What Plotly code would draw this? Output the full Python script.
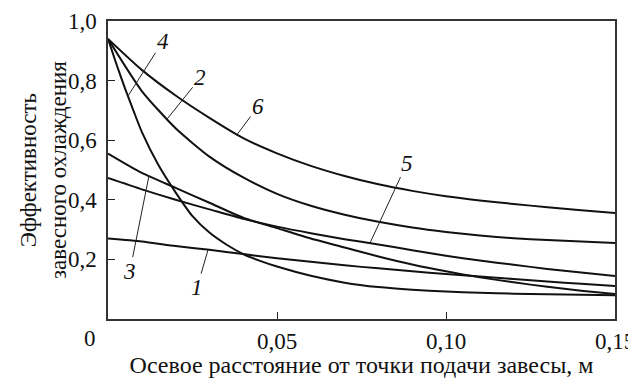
import numpy as np
import plotly.graph_objects as go

# Axial distance, m
x_grid = [0, 0.01, 0.02, 0.03, 0.04, 0.05, 0.06, 0.07, 0.08, 0.09,
          0.10, 0.11, 0.12, 0.13, 0.14, 0.15]
x_fine = [0, 0.0025, 0.005, 0.0075, 0.01, 0.015, 0.02, 0.025, 0.03, 0.035,
          0.04, 0.045, 0.05, 0.06, 0.07, 0.08, 0.09, 0.10, 0.11, 0.12,
          0.13, 0.14, 0.15]

# Film cooling effectiveness per curve
curve1 = [0.27, 0.26, 0.245, 0.232, 0.218, 0.204, 0.192, 0.18, 0.17, 0.16,
          0.151, 0.143, 0.134, 0.126, 0.118, 0.111]
curve2 = [0.94, 0.765, 0.64, 0.545, 0.475, 0.42, 0.38, 0.35, 0.326, 0.307,
          0.292, 0.28, 0.271, 0.265, 0.26, 0.255]
curve3 = [0.555, 0.49, 0.44, 0.39, 0.34, 0.305, 0.27, 0.24, 0.21, 0.183,
          0.16, 0.14, 0.123, 0.108, 0.095, 0.084]
curve4 = [0.94, 0.855, 0.775, 0.70, 0.628, 0.515, 0.425, 0.345, 0.29, 0.25,
          0.218, 0.195, 0.176, 0.145, 0.122, 0.107, 0.098, 0.092, 0.088,
          0.085, 0.083, 0.081, 0.08]
curve5 = [0.473, 0.435, 0.40, 0.368, 0.336, 0.31, 0.288, 0.268, 0.25, 0.231,
          0.212, 0.196, 0.182, 0.168, 0.156, 0.144]
curve6 = [0.94, 0.836, 0.75, 0.675, 0.607, 0.556, 0.514, 0.48, 0.452, 0.43,
          0.412, 0.398, 0.386, 0.375, 0.365, 0.356]

x_tickvals = [0.05, 0.10, 0.15]
x_ticktext = ["0,05", "0,10", "0,15"]
y_tickvals = [0.2, 0.4, 0.6, 0.8, 1.0]
y_ticktext = ["0,2", "0,4", "0,6", "0,8", "1,0"]
x_title = "Осевое расстояние от точки подачи завесы, м"
y_title = "Эффективность<br>завесного охлаждения"

series = [
    ("1", x_grid, curve1),
    ("2", x_grid, curve2),
    ("3", x_grid, curve3),
    ("4", x_fine, curve4),
    ("5", x_grid, curve5),
    ("6", x_grid, curve6),
]

# label: (x on curve, text offset px)
label_pos = {
    "1": (0.0296, -11, 38),
    "2": (0.0175, 33, -41),
    "3": (0.0121, -19, 95),
    "4": (0.0059, 35, -55),
    "5": (0.0775, 37, -80),
    "6": (0.0382, 21, -28),
}

FONT = "Liberation Serif, Times New Roman, serif"
FS = 23

fig = go.Figure()
for name, xs, ys in series:
    fig.add_trace(go.Scatter(x=xs, y=ys, mode="lines", name=name,
                             line=dict(color="#111111", width=2, shape="spline", smoothing=0.6),
                             showlegend=False))

for name, xs, ys in series:
    lx, ax, ay = label_pos[name]
    ly = float(np.interp(lx, xs, ys))
    fig.add_annotation(x=lx, y=ly, text="<i>%s</i>" % name, showarrow=True,
                       arrowhead=0, arrowwidth=1, arrowcolor="#222222",
                       ax=ax, ay=ay, standoff=0,
                       font=dict(family=FONT, size=FS, color="#111111"))

fig.add_annotation(x=0, y=0, text="0", showarrow=False, xshift=-18, yshift=-19,
                   font=dict(family=FONT, size=FS, color="#111111"))

# y-axis title (two lines, rotated)
fig.add_annotation(xref="paper", yref="paper", x=-0.128, y=0.5, text=y_title,
                   textangle=-90, showarrow=False, xanchor="center", yanchor="middle",
                   font=dict(family=FONT, size=FS, color="#111111"))

# page body has an 8px default margin, so the figure is offset by 8px
fig.update_layout(
    width=628, height=370,
    margin=dict(l=100, r=21, t=13, b=59),
    paper_bgcolor="white", plot_bgcolor="white",
    font=dict(family=FONT, size=FS, color="#111111"),
)
fig.update_xaxes(range=[0, 0.15], tickvals=x_tickvals, ticktext=x_ticktext,
                 automargin=False,
                 ticks="inside", ticklen=7, tickwidth=1, tickcolor="#222222",
                 showline=True, linecolor="#333333", linewidth=1.5, mirror=True,
                 showgrid=False, zeroline=False, ticklabelstandoff=1,
                 title=dict(text=x_title, standoff=0, font=dict(family=FONT, size=24)))
fig.update_yaxes(range=[0, 1.0], tickvals=y_tickvals, ticktext=y_ticktext,
                 automargin=False,
                 ticks="inside", ticklen=7, tickwidth=1, tickcolor="#222222",
                 showline=True, linecolor="#333333", linewidth=1.5, mirror=True,
                 showgrid=False, zeroline=False, ticklabelstandoff=5)

fig.write_html("out.html")
